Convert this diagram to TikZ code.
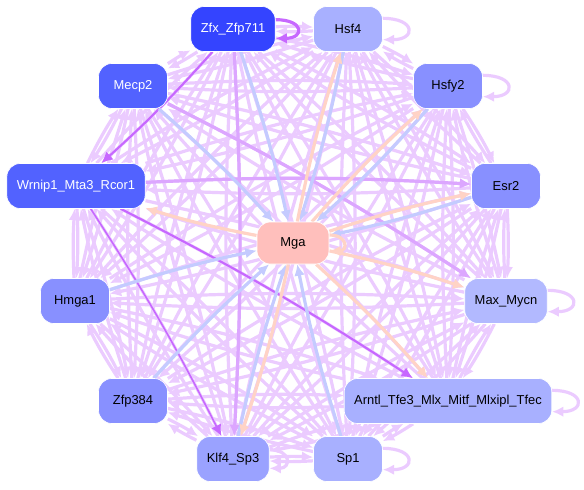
\documentclass[tikz,border=0pt]{standalone}
\usepackage{fontspec}
\setmainfont{Liberation Sans}
\usetikzlibrary{arrows.meta, backgrounds}

% node fills
\definecolor{tfdeep}{HTML}{3444FF}
\definecolor{tfstrong}{HTML}{5262FF}
\definecolor{tfmid}{HTML}{8890FF}
\definecolor{tfsoft}{HTML}{9AA2FF}
\definecolor{tfpale}{HTML}{A8B0FF}
\definecolor{tfpaler}{HTML}{B2B9FF}
\definecolor{hubfill}{HTML}{FFBFBC}
% link colours
\definecolor{linkweak}{HTML}{EBCBFF}
\definecolor{linkmid}{HTML}{DCA6FF}
\definecolor{linkhard}{HTML}{C768FF}
\definecolor{linkin}{HTML}{C4CBFF}
\definecolor{linkout}{HTML}{FFD3C6}

\tikzset{
  tf/.style={rectangle, rounded corners=10pt, draw=white, line width=0.5pt,
    minimum width=51.75pt, minimum height=33.75pt, inner xsep=7.5pt,
    font=\fontsize{9.7}{11}\selectfont},
  link/.style={draw=linkweak, line width=2.4pt, -{Latex[length=8.5pt,width=8pt]}},
  selfloop/.style={link, looseness=4}
}

\begin{document}
\begin{tikzpicture}[x=0.75pt, y=-0.75pt]
\useasboundingbox (0,0) rectangle (584,489);

% Factors on the ring
\node[tf, fill=tfdeep, text=white] (zfx) at (233,29) {Zfx\_Zfp711};
\node[tf, fill=tfpale] (hsf) at (348,29) {Hsf4};
\node[tf, fill=tfmid] (hsfy) at (448,86) {Hsfy2};
\node[tf, fill=tfmid] (esr) at (506,186) {Esr2};
\node[tf, fill=tfpaler] (max) at (506,301) {Max\_Mycn};
\node[tf, fill=tfpale] (arntl) at (448,401) {Arntl\_Tfe3\_Mlx\_Mitf\_Mlxipl\_Tfec};
\node[tf, fill=tfpale] (sp) at (348,459) {Sp1};
\node[tf, fill=tfsoft] (klf) at (233,459) {Klf4\_Sp3};
\node[tf, fill=tfmid] (zfp) at (133,401) {Zfp384};
\node[tf, fill=tfmid] (hmga) at (75,301) {Hmga1};
\node[tf, fill=tfstrong, text=white] (wrnip) at (76,186) {Wrnip1\_Mta3\_Rcor1};
\node[tf, fill=tfstrong, text=white] (mecp) at (133,86) {Mecp2};

% Hub
\node[tf, fill=hubfill, minimum width=54pt, minimum height=31.5pt] (mga) at (293,243) {Mga};

\begin{pgfonlayer}{background}
% Links between ring factors
\foreach \a [count=\i] in {zfx,hsf,hsfy,esr,max,arntl,sp,klf,zfp,hmga,wrnip,mecp} {
  \foreach \b [count=\j] in {zfx,hsf,hsfy,esr,max,arntl,sp,klf,zfp,hmga,wrnip,mecp} {
    \ifnum\i<\j
      \draw[link] (\a) to[bend left=3] (\b);
      \draw[link] (\b) to[bend left=3] (\a);
    \fi
  }
}

% Stronger links
\draw[link, draw=linkmid] (wrnip) to[bend left=3] (esr);
\draw[link, draw=linkmid] (mecp) to[bend left=3] (max);
\draw[link, draw=linkmid] (zfx) to[bend left=3] (klf);
\draw[link, draw=linkhard, line width=1.6pt] (zfx) to[bend left=3] (wrnip);
\draw[link, draw=linkhard, line width=1.6pt] (wrnip) to[bend left=3] (arntl);
\draw[link, draw=linkhard, line width=1.2pt] (wrnip) to[bend left=3] (klf);

% Into the hub
\foreach \a in {zfx,hsf,hsfy,esr,mecp,hmga,zfp,klf,sp}
  \draw[link, draw=linkin] (\a) to[bend left=3] (mga);

% Out of the hub
\foreach \b in {wrnip,max,arntl,hsf,hsfy,esr,klf}
  \draw[link, draw=linkout] (mga) to[bend left=3] (\b);

% Self loops
\draw[selfloop, draw=linkhard] ([yshift=7pt]zfx.east) to[out=0,in=0] ([yshift=-7pt]zfx.east);
\draw[selfloop] ([yshift=8pt]hsf.east) to[out=0,in=0] ([yshift=-8pt]hsf.east);
\draw[selfloop] ([yshift=8pt]hsfy.east) to[out=0,in=0] ([yshift=-8pt]hsfy.east);
\draw[selfloop] ([yshift=8pt]max.east) to[out=0,in=0] ([yshift=-8pt]max.east);
\draw[selfloop] ([yshift=8pt]arntl.east) to[out=0,in=0] ([yshift=-8pt]arntl.east);
\draw[selfloop] ([yshift=8pt]sp.east) to[out=0,in=0] ([yshift=-8pt]sp.east);
\draw[selfloop, looseness=3] ([yshift=7pt]klf.east) to[out=0,in=0] ([yshift=-7pt]klf.east);
\draw[selfloop, draw=linkout, looseness=3] ([yshift=6pt]mga.east) to[out=0,in=0] ([yshift=-6pt]mga.east);
\end{pgfonlayer}

\end{tikzpicture}
\end{document}
